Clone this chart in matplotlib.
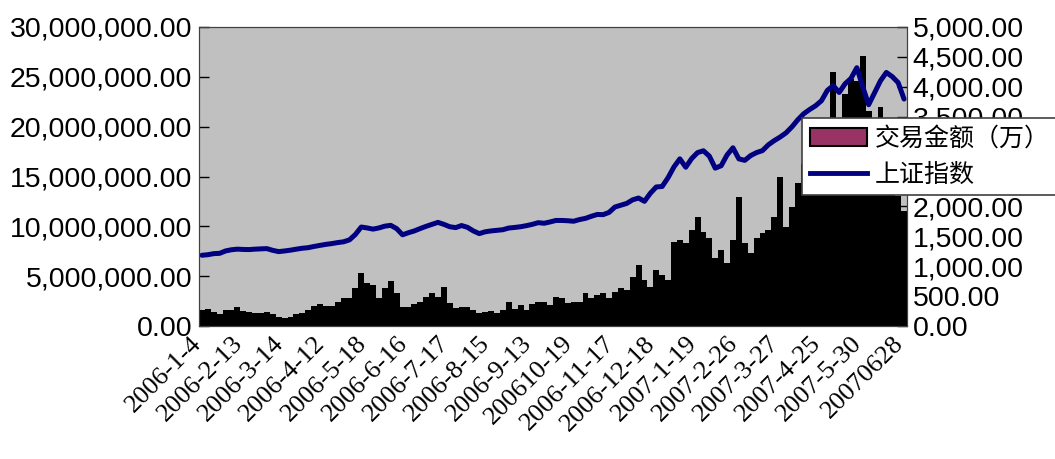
import numpy as np
import matplotlib.pyplot as plt
from matplotlib.patches import Patch
from matplotlib.lines import Line2D
from matplotlib.ticker import FuncFormatter, MultipleLocator
from matplotlib.transforms import ScaledTranslation

plt.rcParams['font.family'] = ['Liberation Sans', 'Noto Sans CJK SC']

# 交易金额（万），以百万为单位录入（每 3 个交易日取一个点）
vol_m = [
    1.6, 1.7, 1.4, 1.2, 1.6, 1.6, 1.9, 1.5, 1.4, 1.3,
    1.3, 1.4, 1.2, 0.9, 0.8, 0.9, 1.2, 1.3, 1.6, 2.0,
    2.2, 2.0, 2.0, 2.4, 2.8, 2.8, 3.8, 5.3, 4.3, 4.1,
    2.8, 3.8, 4.5, 3.3, 1.9, 1.9, 2.2, 2.4, 2.9, 3.3,
    2.9, 3.9, 2.3, 1.8, 1.9, 1.9, 1.6, 1.3, 1.4, 1.5,
    1.3, 1.6, 2.4, 1.7, 2.1, 1.6, 2.2, 2.4, 2.4, 2.1,
    2.9, 2.8, 2.3, 2.4, 2.4, 3.3, 2.8, 3.1, 3.3, 2.8,
    3.4, 3.8, 3.6, 4.9, 6.1, 4.6, 3.9, 5.6, 5.1, 4.6,
    8.4, 8.6, 8.3, 9.6, 10.9, 9.4, 8.8, 6.8, 7.6, 6.3,
    8.6, 12.9, 8.3, 7.3, 8.8, 9.3, 9.6, 10.9, 14.9, 9.9,
    11.9, 14.3, 16.3, 17.5, 18.5, 19.0, 20.0, 25.5, 19.0, 23.3,
    24.8, 24.6, 27.1, 21.6, 19.0, 22.0, 17.0, 15.0, 13.0, 11.5,
]

# 上证指数收盘
index_sh = [
    1183, 1192, 1210, 1215, 1255, 1275, 1285, 1280, 1278, 1285,
    1290, 1294, 1265, 1244, 1255, 1268, 1285, 1300, 1310, 1330,
    1348, 1365, 1378, 1395, 1408, 1440, 1530, 1655, 1640, 1620,
    1640, 1670, 1683, 1628, 1525, 1560, 1590, 1630, 1667, 1700,
    1733, 1700, 1660, 1645, 1680, 1650, 1590, 1545, 1575, 1590,
    1600, 1610, 1638, 1648, 1660, 1678, 1700, 1728, 1718, 1740,
    1765, 1765, 1760, 1752, 1780, 1800, 1835, 1865, 1862, 1900,
    1990, 2020, 2050, 2110, 2140, 2085, 2220, 2325, 2333, 2480,
    2660, 2795, 2655, 2800, 2900, 2930, 2840, 2640, 2680, 2860,
    2980, 2795, 2770, 2850, 2900, 2933, 3030, 3100, 3160, 3230,
    3330, 3450, 3550, 3620, 3683, 3767, 3940, 4020, 3905, 4050,
    4140, 4320, 4000, 3700, 3900, 4100, 4240, 4170, 4070, 3795,
]

date_labels = [
    '2006-1-4', '2006-2-13', '2006-3-14', '2006-4-12', '2006-5-18',
    '2006-6-16', '2006-7-17', '2006-8-15', '2006-9-13', '200610-19',
    '2006-11-17', '2006-12-18', '2007-1-19', '2007-2-26', '2007-3-27',
    '2007-4-25', '2007-5-30', '20070628',
]

vol = np.array(vol_m) * 1e6
x = np.arange(len(vol))
step = (len(x) - 1) // (len(date_labels) - 1)

fig = plt.figure(figsize=(10.55, 4.59), dpi=100)
ax = fig.add_axes([199 / 1055, 1 - 326 / 459, 708 / 1055, 299 / 459])
ax.set_facecolor('#c0c0c0')
ax.bar(x, vol, width=1.0, color='black', linewidth=0)
ax.set_xlim(-0.5, len(x) - 0.5)
ax.set_ylim(0, 30e6)
ax.yaxis.set_major_locator(MultipleLocator(5e6))
ax.yaxis.set_major_formatter(FuncFormatter(lambda v, p: f"{v:,.2f}"))
ax.tick_params(axis='y', direction='in', length=7, width=1, labelsize=20.5, pad=5)
ax.set_xticks(x[::step])
ax.set_xticklabels(date_labels, rotation=45, ha='right', va='top',
                   rotation_mode='anchor', fontsize=19, family='Liberation Serif')
ax.tick_params(axis='x', length=0, pad=6)
shift = ScaledTranslation(-0.12, 0.02, fig.dpi_scale_trans)
for lab in ax.get_xticklabels():
    lab.set_transform(lab.get_transform() + shift)
for s in ax.spines.values():
    s.set_color('#404040')

ax2 = ax.twinx()
ax2.plot(x, index_sh, color='#000080', lw=3.6, solid_capstyle='round')
ax2.set_ylim(0, 5000)
ax2.yaxis.set_major_locator(MultipleLocator(500))
ax2.yaxis.set_major_formatter(FuncFormatter(lambda v, p: f"{v:,.2f}"))
ax2.tick_params(axis='y', direction='in', length=7, width=1, labelsize=20.5, pad=4)
for s in ax2.spines.values():
    s.set_color('#404040')

handles = [
    Patch(facecolor='#993366', edgecolor='black', linewidth=1.5),
    Line2D([0], [0], color='#000080', lw=3.5),
]
leg = fig.legend(handles, ['交易金额（万）', '上证指数'],
                 loc='upper left', bbox_to_anchor=(802 / 1055, 1 - 118 / 459),
                 frameon=True, fancybox=False, framealpha=1,
                 edgecolor='#404040', facecolor='white',
                 prop={'family': ['Noto Sans CJK SC'], 'size': 18},
                 handlelength=2.3, handleheight=0.7, handletextpad=0.3,
                 borderpad=0.3, labelspacing=0.4, borderaxespad=0)
leg.get_frame().set_linewidth(1.2)

fig.savefig('out.png', dpi=100)
